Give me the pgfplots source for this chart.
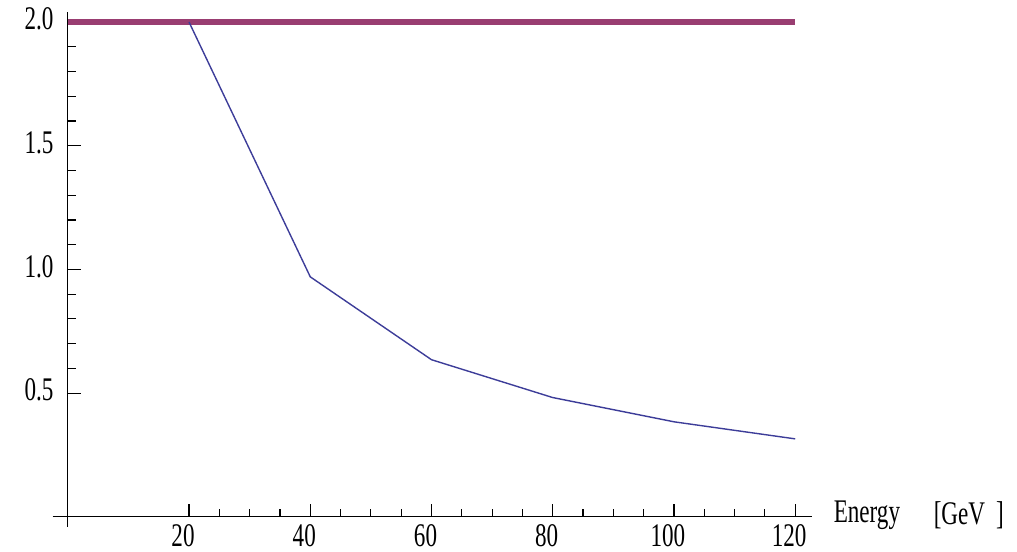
\documentclass[border=0pt]{standalone}
\usepackage{fontspec}
\setmainfont{Liberation Serif}
\newfontfamily\narrowserif[FakeStretch=0.7]{Liberation Serif}
\usepackage{pgfplots}
\pgfplotsset{compat=1.18}
\definecolor{curveblue}{rgb}{0.24,0.24,0.6}
\definecolor{limitpurple}{rgb}{0.6,0.24,0.443}
\newcommand\labelfont{\narrowserif\fontsize{16.5}{18}\selectfont}
\begin{document}
\begin{tikzpicture}
\begin{axis}[
  x=3.03pt, y=123.65pt,
  axis lines=left,
  xmin=0, xmax=122.8, ymin=0, ymax=2.04,
  xtick={20,40,...,120}, ytick={0.5,1.0,1.5,2.0},
  minor x tick num=3, minor y tick num=4,
  yticklabel style={/pgf/number format/fixed, /pgf/number format/fixed zerofill,
    /pgf/number format/precision=1, anchor=east, xshift=-7pt, yshift=1.5pt},
  xticklabel style={anchor=north, yshift=-3.8pt, xshift=-3pt},
  tick align=inside,
  major tick length=6.5pt, minor tick length=4pt,
  tick style={black, line width=0.6pt},
  axis line style={black, line width=0.6pt, -},
  /pgf/number format/assume math mode=true,
  ticklabel style={font=\labelfont, inner sep=0pt},
  clip=false,
]
% short overhang of both axes past the origin
\draw[black, line width=0.6pt] (axis cs:-2.5,0) -- (axis cs:0,0);
\draw[black, line width=0.6pt] (axis cs:0,-0.04) -- (axis cs:0,0);
% upper limit
\addplot[limitpurple, line width=3pt] coordinates {(0,2.0) (120,2.0)};
% computed curve
\addplot[curveblue, line width=0.7pt] coordinates {
  (20,2.0) (40,0.97) (60,0.635) (80,0.482) (100,0.384) (120,0.315)
};
\node[anchor=west, inner sep=0pt, font=\labelfont] at (axis cs:126.3,0.005) {Energy};
\node[anchor=west, inner sep=0pt, font=\labelfont] at (axis cs:142.8,0.005) {[GeV\,\,]};
\coordinate (bbl) at (axis cs:-11.19,-0.1387);
\coordinate (btr) at (axis cs:156.6,2.0893);
\end{axis}
\pgfresetboundingbox
\useasboundingbox (bbl) rectangle (btr);
\end{tikzpicture}
\end{document}
